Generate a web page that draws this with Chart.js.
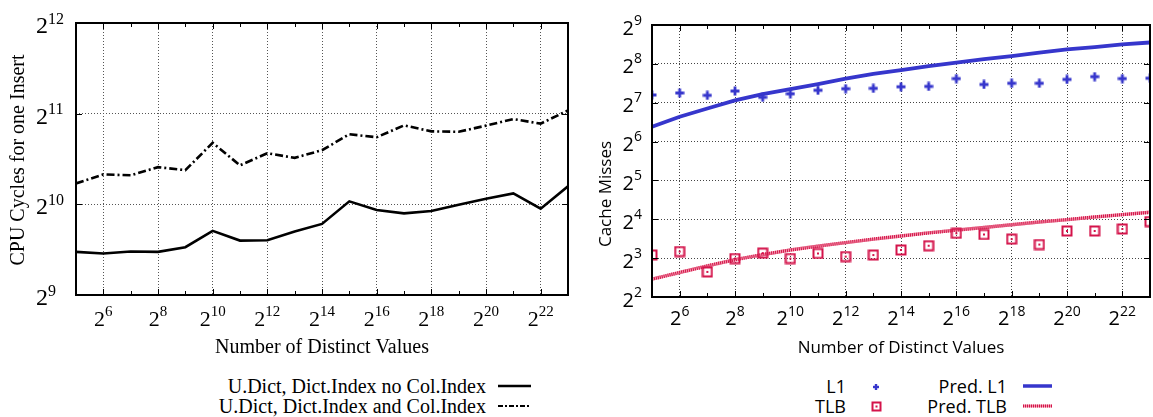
<!DOCTYPE html>
<html>
<head>
<meta charset="utf-8">
<script src="https://cdn.jsdelivr.net/npm/chart.js@4.4.0/dist/chart.umd.min.js"></script>
<style>
  html, body { margin: 0; padding: 0; background: #fff; overflow: hidden; }
  #page { position: relative; width: 1153px; height: 417px; overflow: hidden; }
  canvas { position: absolute; top: 0; }
  .leg { position: absolute; white-space: nowrap; line-height: 20px; text-align: right; color: #000; }
  .serif { font-family: "Liberation Serif", "Times New Roman", serif; font-size: 20px; }
  .sans { font-family: "Open Sans", sans-serif; font-size: 18px; }
  svg { position: absolute; }
</style>
</head>
<body>
<div id="page">
  <canvas id="left" width="580" height="365" style="left:0"></canvas>
  <canvas id="right" width="577" height="365" style="left:580px"></canvas>
</div>
<script>
// x values are log2 of the number of distinct values
const exps = [5, 6, 7, 8, 9, 10, 11, 12, 13, 14, 15, 16, 17, 18, 19, 20, 21, 22, 23];

// left chart: log2 of CPU cycles per insert
const noColIndex = [9.476, 9.458, 9.48, 9.476, 9.527, 9.707, 9.60, 9.604, 9.70, 9.784, 10.033, 9.938, 9.90, 9.926, 9.996, 10.062, 10.12, 9.952, 10.20];
const withColIndex = [10.23, 10.33, 10.32, 10.41, 10.377, 10.678, 10.43, 10.564, 10.513, 10.597, 10.773, 10.74, 10.871, 10.805, 10.80, 10.868, 10.94, 10.89, 11.036];

// right chart: log2 of cache misses
const l1 = [7.20, 7.25, 7.19, 7.30, 7.14, 7.23, 7.32, 7.36, 7.37, 7.41, 7.42, 7.62, 7.47, 7.50, 7.50, 7.60, 7.67, 7.62, 7.63];
const predL1 = [6.38, 6.64, 6.85, 7.06, 7.22, 7.35, 7.48, 7.62, 7.74, 7.84, 7.94, 8.03, 8.12, 8.20, 8.29, 8.37, 8.43, 8.50, 8.55];
const tlb = [3.08, 3.17, 2.645, 2.99, 3.13, 2.99, 3.12, 3.04, 3.08, 3.21, 3.32, 3.64, 3.61, 3.49, 3.35, 3.70, 3.70, 3.75, 3.94];
const predTlb = [2.46, 2.63, 2.80, 2.96, 3.09, 3.21, 3.31, 3.40, 3.49, 3.57, 3.65, 3.72, 3.79, 3.86, 3.93, 3.99, 4.06, 4.12, 4.18];

const leftLabels = ['U.Dict, Dict.Index no Col.Index', 'U.Dict, Dict.Index and Col.Index'];
const rightLabels = ['L1', 'TLB', 'Pred. L1', 'Pred. TLB'];

const BLUE = '#3636cc';
const RED = '#d4134a';
const PINK = '#f29aae';
const SERIF = '"Liberation Serif", "Times New Roman", serif';
const SANS = '"Open Sans", sans-serif';

const pts = vals => exps.map((e, i) => ({ x: e, y: vals[i] }));

// marker images (gnuplot style plus and boxed dot)
function plusMarker(color) {
  const c = document.createElement('canvas');
  c.width = c.height = 10;
  const g = c.getContext('2d');
  g.strokeStyle = color;
  g.lineWidth = 2.8;
  g.beginPath();
  g.moveTo(5, 0.5); g.lineTo(5, 9.5);
  g.moveTo(0.5, 5); g.lineTo(9.5, 5);
  g.stroke();
  return c;
}
function boxMarker(color) {
  const c = document.createElement('canvas');
  c.width = c.height = 12;
  const g = c.getContext('2d');
  g.strokeStyle = color;
  g.lineWidth = 2;
  g.strokeRect(1.5, 1.5, 9, 9);
  g.fillStyle = color;
  g.fillRect(5, 5, 2, 2);
  return c;
}

// frame, inward ticks, 2^n labels and axis titles like gnuplot
const gnuplotFrame = {
  id: 'gnuplotFrame',
  afterDatasetsDraw(chart, args, o) {
    const { ctx, chartArea: a, scales: { x, y } } = chart;
    ctx.save();
    ctx.strokeStyle = '#000';
    ctx.lineWidth = 1;
    ctx.beginPath();
    x.ticks.forEach(t => {
      const px = Math.round(x.getPixelForValue(t.value)) + 0.5;
      const len = t.value % 2 === 0 ? 6 : 4;
      ctx.moveTo(px, a.bottom); ctx.lineTo(px, a.bottom - len);
      ctx.moveTo(px, a.top); ctx.lineTo(px, a.top + len);
    });
    y.ticks.forEach(t => {
      const py = Math.round(y.getPixelForValue(t.value)) + 0.5;
      ctx.moveTo(a.left, py); ctx.lineTo(a.left + 6, py);
      ctx.moveTo(a.right, py); ctx.lineTo(a.right - 6, py);
    });
    ctx.stroke();
    ctx.lineWidth = 2;
    ctx.strokeRect(a.left, a.top, a.right - a.left, a.bottom - a.top);

    ctx.fillStyle = '#000';
    ctx.textBaseline = 'alphabetic';
    // y tick labels
    y.ticks.forEach(t => {
      const py = y.getPixelForValue(t.value);
      ctx.font = o.yBase;
      ctx.textAlign = 'right';
      ctx.fillText('2', o.yLabelRight, py + o.yBaseDy);
      ctx.font = o.yExp;
      ctx.textAlign = 'left';
      ctx.fillText(String(t.value), o.yLabelRight, py + o.yExpDy);
    });
    // x tick labels, only even exponents
    ctx.textAlign = 'left';
    x.ticks.forEach(t => {
      if (t.value % 2 !== 0) return;
      const px = x.getPixelForValue(t.value);
      ctx.font = o.xBase;
      const wb = ctx.measureText('2').width;
      ctx.font = o.xExp;
      const we = ctx.measureText(String(t.value)).width;
      const x0 = px - (wb + we) / 2;
      ctx.font = o.xBase;
      ctx.fillText('2', x0, a.bottom + o.xBaseDy);
      ctx.font = o.xExp;
      ctx.fillText(String(t.value), x0 + wb, a.bottom + o.xExpDy);
    });
    // axis titles
    ctx.font = o.titleFont;
    ctx.textAlign = 'center';
    ctx.textBaseline = 'middle';
    ctx.fillText(o.xTitle, (a.left + a.right) / 2, o.xTitleY);
    ctx.translate(o.yTitleX, o.yTitleY);
    ctx.rotate(-Math.PI / 2);
    ctx.fillText(o.yTitle, 0, 0);
    ctx.restore();
  }
};

function axes(yMin, yMax, yWidth, xHeight, gridColor) {
  return {
    x: {
      type: 'linear', min: 5, max: 23,
      afterFit: s => { s.height = xHeight; },
      ticks: { display: false, stepSize: 1 },
      grid: { drawTicks: false, lineWidth: 1, color: c => (c.tick && c.tick.value % 2 === 0) ? gridColor : 'rgba(0,0,0,0)' },
      border: { display: false, dash: [1, 2] }
    },
    y: {
      type: 'linear', min: yMin, max: yMax,
      afterFit: s => { s.width = yWidth; },
      ticks: { display: false, stepSize: 1 },
      grid: { drawTicks: false, lineWidth: 1, color: gridColor },
      border: { display: false, dash: [1, 2] }
    }
  };
}

// left chart
new Chart(document.getElementById('left').getContext('2d'), {
  type: 'line',
  data: {
    datasets: [{
      label: leftLabels[0],
      data: pts(noColIndex),
      borderColor: '#000',
      borderWidth: 2.6,
      pointRadius: 0
    }, {
      label: leftLabels[1],
      data: pts(withColIndex),
      borderColor: '#000',
      borderWidth: 2.6,
      borderDash: [8, 3, 2, 3],
      pointRadius: 0
    }]
  },
  options: {
    responsive: false,
    animation: false,
    layout: { padding: { left: 0, top: 23, right: 12, bottom: 0 } },
    scales: axes(9, 12, 76, 70, '#555'),
    plugins: {
      legend: { display: false },
      tooltip: { enabled: false },
      gnuplotFrame: {
        yBase: '24px ' + SERIF, yExp: '16px ' + SERIF,
        xBase: '22px ' + SERIF, xExp: '15px ' + SERIF,
        yLabelRight: 48, yBaseDy: 10, yExpDy: 0.5,
        xBaseDy: 31, xExpDy: 21,
        titleFont: '20px ' + SERIF,
        xTitle: 'Number of Distinct Values', xTitleY: 348,
        yTitle: 'CPU Cycles for one Insert', yTitleX: 19, yTitleY: 160
      }
    }
  },
  plugins: [gnuplotFrame]
});

// right chart
new Chart(document.getElementById('right').getContext('2d'), {
  type: 'line',
  data: {
    datasets: [{
      label: rightLabels[0],
      data: pts(l1),
      showLine: false,
      pointStyle: plusMarker(BLUE),
      pointRadius: 5
    }, {
      label: rightLabels[1],
      data: pts(tlb),
      showLine: false,
      pointStyle: boxMarker(RED),
      pointRadius: 6
    }, {
      label: rightLabels[2],
      data: pts(predL1),
      borderColor: BLUE,
      borderWidth: 3.8,
      pointRadius: 0
    }, {
      label: rightLabels[3],
      data: pts(predTlb),
      borderColor: RED,
      borderWidth: 3.4,
      borderDash: [1, 1],
      pointRadius: 0
    }, {
      label: rightLabels[3] + ' (base)',
      data: pts(predTlb),
      borderColor: PINK,
      borderWidth: 3.4,
      pointRadius: 0
    }]
  },
  options: {
    responsive: false,
    animation: false,
    layout: { padding: { left: 0, top: 25, right: 2, bottom: 0 } },
    scales: axes(2, 9, 72, 68, '#444'),
    plugins: {
      legend: { display: false },
      tooltip: { enabled: false },
      gnuplotFrame: {
        yBase: '20px ' + SANS, yExp: '14px ' + SANS,
        xBase: '20px ' + SANS, xExp: '14px ' + SANS,
        yLabelRight: 54, yBaseDy: 9.5, yExpDy: -0.5,
        xBaseDy: 28, xExpDy: 19,
        titleFont: '17px ' + SANS,
        xTitle: 'Number of Distinct Values', xTitleY: 348,
        yTitle: 'Cache Misses', yTitleX: 26, yTitleY: 194
      }
    }
  },
  plugins: [gnuplotFrame]
});

// legends below the charts (text first, sample after, like gnuplot)
const page = document.getElementById('page');
function legendText(text, cls, rightEdge, top) {
  const d = document.createElement('div');
  d.className = 'leg ' + cls;
  d.style.right = (1153 - rightEdge) + 'px';
  d.style.top = top + 'px';
  d.textContent = text;
  page.appendChild(d);
}
function sample(svg, left, top, w, h) {
  const wrap = document.createElement('div');
  wrap.innerHTML = '<svg width="' + w + '" height="' + h + '" style="left:' + left + 'px;top:' + top + 'px">' + svg + '</svg>';
  page.appendChild(wrap.firstChild);
}
legendText(leftLabels[0], 'serif', 486, 376);
legendText(leftLabels[1], 'serif', 486, 396);
sample('<line x1="0" y1="3" x2="33" y2="3" stroke="#000" stroke-width="2.6"/>', 498, 383, 34, 6);
sample('<line x1="0" y1="3" x2="33" y2="3" stroke="#000" stroke-width="2" stroke-dasharray="5 2 2 2"/>', 498, 403, 34, 6);

legendText(rightLabels[0], 'sans', 846, 376);
legendText(rightLabels[1], 'sans', 846, 396);
legendText(rightLabels[2], 'sans', 1007, 376);
legendText(rightLabels[3], 'sans', 1007, 396);
sample('<line x1="1" y1="4" x2="7" y2="4" stroke="' + BLUE + '" stroke-width="2.4"/><line x1="4" y1="1" x2="4" y2="7" stroke="' + BLUE + '" stroke-width="2.4"/>', 872, 383, 8, 8);
sample('<rect x="1.5" y="1.5" width="8" height="8" fill="none" stroke="' + RED + '" stroke-width="2"/><rect x="4.5" y="4.5" width="2" height="2" fill="' + RED + '"/>', 871, 401, 11, 11);
sample('<line x1="0" y1="3" x2="29" y2="3" stroke="' + BLUE + '" stroke-width="3.5"/>', 1023, 383, 30, 6);
sample('<line x1="0" y1="3" x2="29" y2="3" stroke="' + PINK + '" stroke-width="3"/><line x1="0" y1="3" x2="29" y2="3" stroke="' + RED + '" stroke-width="3" stroke-dasharray="1 1"/>', 1023, 403, 30, 6);
</script>
</body>
</html>
